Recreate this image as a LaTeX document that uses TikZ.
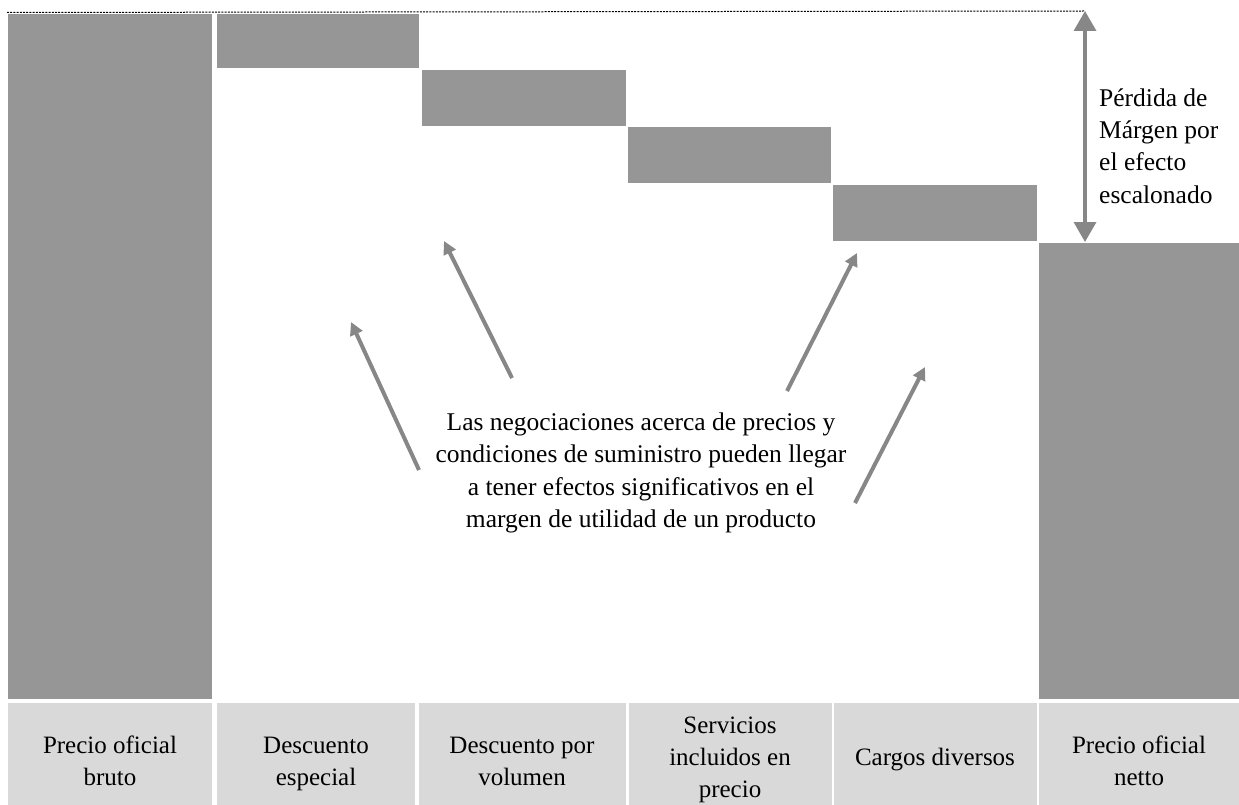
\documentclass[tikz,border=0pt]{standalone}
\usepackage{fontspec}
\setmainfont{Liberation Serif}
\usetikzlibrary{arrows.meta}
\definecolor{barfill}{RGB}{150,150,150}
\definecolor{labelfill}{RGB}{217,217,217}
\definecolor{arrowgray}{RGB}{135,135,135}
\begin{document}
\begin{tikzpicture}[x=1pt,y=-1pt,
  bar/.style={fill=barfill,draw=none,rectangle,inner sep=0pt,anchor=north west},
  labelbox/.style={fill=labelfill,draw=none,rectangle,inner sep=0pt,anchor=north west},
  labeltext/.style={align=center,font=\fontsize{25}{32}\selectfont,inner sep=0pt},
  bodytext/.style={font=\fontsize{25.5}{32.3}\selectfont,inner sep=0pt},
  pointer/.style={draw=arrowgray,line width=4pt,-{Triangle[width=13pt,length=13pt]}},
  span/.style={draw=arrowgray,line width=3.5pt,{Triangle[width=22pt,length=20pt]}-{Triangle[width=22pt,length=20pt]}}
]
\useasboundingbox (0,0) rectangle (1239,805);

% stepped bars
\node[bar,minimum width=204pt,minimum height=685pt] (b1) at (8,14) {};
\node[bar,minimum width=202pt,minimum height=54pt] (b2) at (217,14) {};
\node[bar,minimum width=204pt,minimum height=56pt] (b3) at (422,70) {};
\node[bar,minimum width=203pt,minimum height=56pt] (b4) at (628,127) {};
\node[bar,minimum width=204pt,minimum height=56pt] (b5) at (833,185) {};
\node[bar,minimum width=200pt,minimum height=456pt] (b6) at (1039,243) {};

% category labels
\node[labelbox,minimum width=204pt,minimum height=102pt] (l1) at (8,703) {};
\node[labelbox,minimum width=198pt,minimum height=102pt] (l2) at (217,703) {};
\node[labelbox,minimum width=207pt,minimum height=102pt] (l3) at (419,703) {};
\node[labelbox,minimum width=203pt,minimum height=102pt] (l4) at (629,703) {};
\node[labelbox,minimum width=203pt,minimum height=102pt] (l5) at (834,703) {};
\node[labelbox,minimum width=200pt,minimum height=102pt] (l6) at (1039,703) {};

\node[labeltext] (t1) at (110,761) {Precio oficial\\bruto};
\node[labeltext] (t2) at (316,764) {Descuento\\especial};
\node[labeltext] (t3) at (522,761) {Descuento por\\volumen};
\node[labeltext] (t4) at (730,760) {Servicios\\incluidos en\\precio};
\node[labeltext] (t5) at (935,760) {Cargos diversos};
\node[labeltext] (t6) at (1139,761) {Precio oficial\\netto};

% reference line and margin loss span
\coordinate (dstart) at (7,12.5);
\coordinate (stop) at (1085,11);
\coordinate (sbot) at (1085,242);
\draw[black,line width=1pt,dash pattern=on 2pt off 1.2pt] (dstart) -- (stop);
\draw[span] (stop) -- (sbot);
\node[bodytext,align=left,anchor=west] (loss) at (1099,146) {P\'erdida de\\M\'argen por\\el efecto\\escalonado};

% central note
\node[bodytext,align=center] (note) at (641,473) {Las negociaciones acerca de precios y\\condiciones de suministro pueden llegar\\a tener efectos significativos en el\\margen de utilidad de un producto};

% pointers
\coordinate (a1s) at (419,470);
\coordinate (a1e) at (351,322);
\coordinate (a2s) at (512,378);
\coordinate (a2e) at (444,241);
\coordinate (a3s) at (787,391);
\coordinate (a3e) at (857,253);
\coordinate (a4s) at (855,503);
\coordinate (a4e) at (925,367);
\draw[pointer] (a1s) -- (a1e);
\draw[pointer] (a2s) -- (a2e);
\draw[pointer] (a3s) -- (a3e);
\draw[pointer] (a4s) -- (a4e);
\end{tikzpicture}
\end{document}
